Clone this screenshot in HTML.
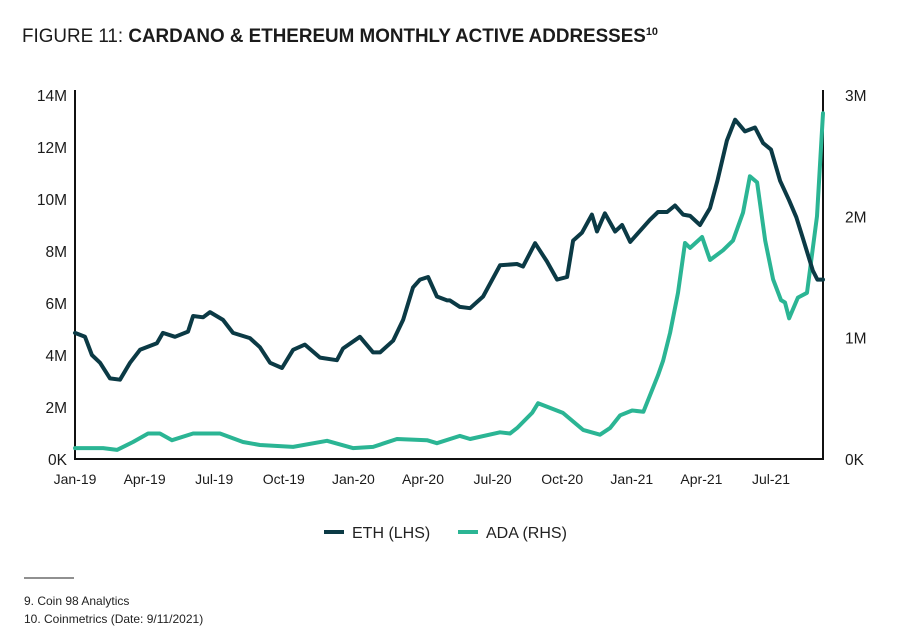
<!DOCTYPE html>
<html><head><meta charset="utf-8">
<style>
html,body{margin:0;padding:0;background:#fff;}
body{width:919px;height:637px;overflow:hidden;font-family:"Liberation Sans",sans-serif;}
svg text{font-family:"Liberation Sans",sans-serif;}
</style></head>
<body>
<svg id="chart" width="919" height="637" viewBox="0 0 919 637" xmlns="http://www.w3.org/2000/svg">
  <text x="22" y="42" font-size="19" fill="#1b1b1b" textLength="636" lengthAdjust="spacingAndGlyphs">FIGURE 11: <tspan font-weight="bold">CARDANO &amp; ETHEREUM MONTHLY ACTIVE ADDRESSES</tspan><tspan font-size="11" dy="-7" font-weight="bold">10</tspan></text>
  <g id="axes"></g>
  <g id="series"></g>
  <g>
    <g>
      <line x1="324" y1="532" x2="344" y2="532" stroke="#0b3a45" stroke-width="4"/>
      <text x="352" y="538" font-size="16" fill="#222">ETH (LHS)</text>
    </g>
    <g>
      <line x1="458" y1="532" x2="478" y2="532" stroke="#2bb594" stroke-width="4"/>
      <text x="486" y="538" font-size="16" fill="#222">ADA (RHS)</text>
    </g>
  </g>
  <line x1="24" y1="578" x2="74" y2="578" stroke="#222" stroke-width="1"/>
  <text x="24" y="605" font-size="12" fill="#222">9. Coin 98 Analytics</text>
  <text x="24" y="623" font-size="12" fill="#222">10. Coinmetrics (Date: 9/11/2021)</text>
</svg>
<script>
// months since Jan-2019
const ethMonths = [0,0.43,0.73,1.08,1.51,1.94,2.37,2.8,3.53,3.79,4.31,4.87,5.09,5.52,5.82,6.38,6.81,7.54,7.97,8.41,8.92,9.4,9.91,10.56,11.29,11.55,12.28,12.85,13.15,13.71,14.14,14.57,14.87,15.22,15.6,16.04,16.59,16.16,17.03,17.59,18.32,19.05,19.31,19.83,20.34,20.78,21.21,21.47,21.85,22.28,22.5,22.84,23.28,23.58,23.93,24.78,25.13,25.52,25.86,26.21,26.51,26.94,27.37,27.69,28.1,28.45,28.88,29.31,29.66,30.0,30.39,30.78,31.09,31.35,31.8,32.0,32.24];
const ethValues = [4.85,4.7,4.0,3.7,3.1,3.05,3.7,4.2,4.45,4.85,4.7,4.9,5.5,5.45,5.65,5.35,4.85,4.65,4.3,3.7,3.5,4.2,4.4,3.9,3.8,4.25,4.7,4.1,4.1,4.55,5.35,6.6,6.9,7.0,6.25,6.1,5.85,6.1,5.8,6.25,7.45,7.5,7.4,8.3,7.6,6.9,7.0,8.4,8.7,9.4,8.75,9.45,8.75,9.0,8.35,9.2,9.5,9.5,9.75,9.4,9.35,9.0,9.65,10.7,12.25,13.05,12.6,12.75,12.15,11.9,10.7,9.95,9.3,8.55,7.25,6.9,6.9];
const adaMonths = [0,1.21,1.81,2.5,3.15,3.66,4.18,5.09,6.25,7.24,7.97,9.4,10.86,11.98,12.85,13.88,15.17,15.6,16.59,17.03,18.32,18.75,19.05,19.7,19.96,21.03,21.9,22.63,23.06,23.5,24.01,24.5,25.13,25.35,25.65,25.99,26.29,26.51,27.03,27.37,27.93,28.36,28.79,29.09,29.4,29.75,30.09,30.43,30.6,30.78,31.16,31.55,31.98,32.24];
const adaValues = [0.09,0.09,0.075,0.14,0.21,0.21,0.155,0.21,0.21,0.14,0.115,0.1,0.15,0.09,0.1,0.165,0.155,0.13,0.19,0.165,0.22,0.21,0.255,0.38,0.46,0.38,0.24,0.2,0.255,0.36,0.4,0.39,0.69,0.81,1.04,1.37,1.78,1.74,1.83,1.64,1.72,1.8,2.03,2.33,2.28,1.8,1.48,1.31,1.29,1.16,1.33,1.37,2.0,2.85];
const xTickLabels = ["Jan-19","Apr-19","Jul-19","Oct-19","Jan-20","Apr-20","Jul-20","Oct-20","Jan-21","Apr-21","Jul-21"];
const xTickMonths = [0,3,6,9,12,15,18,21,24,27,30];
const leftTicks = [0,2,4,6,8,10,12,14];
const leftTickLabels = ["0K","2M","4M","6M","8M","10M","12M","14M"];
const rightTicks = [0,1,2,3];
const rightTickLabels = ["0K","1M","2M","3M"];

const X0=75, X1=823, Y0=459, Y1=95, MMAX=32.24;
const xs = m => X0 + (X1-X0)*m/MMAX;
const yl = v => Y0 - (Y0-Y1)*v/14;
const yr = v => Y0 - (Y0-Y1)*v/3;
const NS="http://www.w3.org/2000/svg";
const axes=document.getElementById('axes'), series=document.getElementById('series');
function mk(tag,attrs,parent){const e=document.createElementNS(NS,tag);for(const k in attrs)e.setAttribute(k,attrs[k]);parent.appendChild(e);return e;}

let e;
e=mk('line',{x1:X0,y1:Y1-5,x2:X0,y2:Y0,stroke:'#111','stroke-width':2},axes);


e=mk('line',{x1:X1,y1:Y1-5,x2:X1,y2:Y0,stroke:'#111','stroke-width':2},axes);


e=mk('line',{x1:X0-1,y1:Y0,x2:X1+1,y2:Y0,stroke:'#111','stroke-width':2},axes);



leftTicks.forEach((v,i)=>{
  const t=mk('text',{x:67,y:yl(v)+6,'font-size':15.5,'text-anchor':'end',fill:'#1b1b1b'},axes);
  t.textContent=leftTickLabels[i];
  
  
});
rightTicks.forEach((v,i)=>{
  const t=mk('text',{x:845,y:yr(v)+6,'font-size':15.5,'text-anchor':'start',fill:'#1b1b1b'},axes);
  t.textContent=rightTickLabels[i];
  
  
});
xTickMonths.forEach((m,i)=>{
  const t=mk('text',{x:xs(m),y:484,'font-size':14,'text-anchor':'middle',fill:'#1b1b1b'},axes);
  t.textContent=xTickLabels[i];
  
  
});

function path(months,vals,yf){
  const idx=months.map((m,i)=>i).sort((a,b)=>months[a]-months[b]);
  return idx.map((i,k)=>(k?'L':'M')+xs(months[i]).toFixed(1)+','+yf(vals[i]).toFixed(1)).join(' ');
}
e=mk('path',{d:path(adaMonths,adaValues,yr),fill:'none',stroke:'#2bb594','stroke-width':4,'stroke-linejoin':'round','stroke-linecap':'round'},series);


e=mk('path',{d:path(ethMonths,ethValues,yl),fill:'none',stroke:'#0b3a45','stroke-width':4,'stroke-linejoin':'round','stroke-linecap':'round'},series);


</script>
</body></html>
